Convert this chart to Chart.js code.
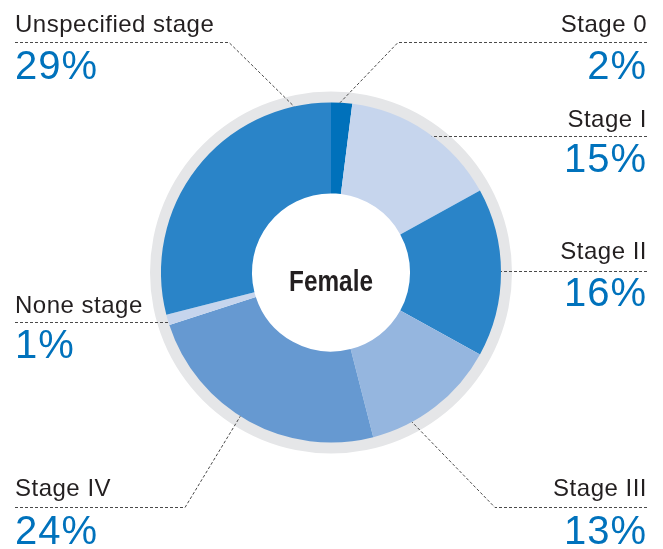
<!DOCTYPE html>
<html lang="en">
<head>
    <meta charset="UTF-8">
    <title>Female - cancer stage</title>
    <script src="https://cdn.jsdelivr.net/npm/chart.js"></script>
    <style>
        html, body { margin: 0; padding: 0; background: #fff; }
        #wrap { width: 663px; height: 549px; }
    </style>
</head>
<body>
    <div id="wrap"><canvas id="stageChart" width="663" height="549"></canvas></div>

    <script>
        // data
        const stageLabels = ["Stage 0", "Stage I", "Stage II", "Stage III", "Stage IV", "None stage", "Unspecified stage"];
        const stageShares = [2, 15, 16, 13, 24, 1, 29];
        const stageColors = ["#0071bb", "#c6d5ed", "#2a84c8", "#95b6df", "#6699d1", "#c6d5ed", "#2a84c8"];
        const centerTitle = "Female";

        // callout layout: side, text x, label baseline, percent baseline,
        // line y (null = at the arc point), knee x (null = straight), where on the slice the line lands
        const callouts = [
            { side: "right", x: 647, labelY: 32,  pctY: 79,  lineY: 42,   knee: 398,  t: 0.42 },
            { side: "right", x: 647, labelY: 127, pctY: 172, lineY: null, knee: null, t: 0.54 },
            { side: "right", x: 647, labelY: 259, pctY: 306, lineY: null, knee: null, t: 0.49 },
            { side: "right", x: 647, labelY: 496, pctY: 544, lineY: 507,  knee: 495,  t: 0.70 },
            { side: "left",  x: 15,  labelY: 496, pctY: 544, lineY: 507,  knee: 185,  t: 0.54 },
            { side: "left",  x: 15,  labelY: 313, pctY: 358, lineY: null, knee: null, t: 0.25 },
            { side: "left",  x: 15,  labelY: 32,  pctY: 79,  lineY: 42,   knee: 229,  t: 0.88 }
        ];

        const ringPlugin = {
            id: "ring",
            beforeDatasetsDraw(chart) {
                const arc = chart.getDatasetMeta(0).data[0];
                const ctx = chart.ctx;
                ctx.save();
                ctx.beginPath();
                ctx.arc(arc.x, arc.y, arc.outerRadius + 11, 0, Math.PI * 2);
                ctx.arc(arc.x, arc.y, arc.outerRadius - 1, 0, Math.PI * 2, true);
                ctx.fillStyle = "#e5e6e8";
                ctx.fill();
                ctx.restore();
            }
        };

        const calloutPlugin = {
            id: "callouts",
            afterDraw(chart) {
                const ctx = chart.ctx;
                const arcs = chart.getDatasetMeta(0).data;

                // center title, condensed bold
                const c = arcs[0];
                ctx.save();
                ctx.font = "bold 29px 'Liberation Sans', Arial, sans-serif";
                ctx.fillStyle = "#231f20";
                ctx.textAlign = "center";
                ctx.textBaseline = "alphabetic";
                ctx.translate(c.x, c.y + 18);
                ctx.scale(0.84, 1);
                ctx.fillText(centerTitle, 0, 0);
                ctx.restore();

                callouts.forEach((co, i) => {
                    const a = arcs[i];
                    const ang = a.startAngle + co.t * (a.endAngle - a.startAngle);
                    const px = a.x + Math.cos(ang) * a.outerRadius;
                    const py = a.y + Math.sin(ang) * a.outerRadius;

                    ctx.save();
                    ctx.strokeStyle = "#4a4a4a";
                    ctx.lineWidth = 1;
                    ctx.setLineDash([3, 2]);
                    ctx.beginPath();
                    if (co.knee === null) {
                        const y = Math.round(py) + 0.5;
                        ctx.moveTo(co.x, y);
                        ctx.lineTo(px, y);
                    } else {
                        const y = co.lineY + 0.5;
                        ctx.moveTo(co.x, y);
                        ctx.lineTo(co.knee, y);
                        ctx.lineTo(px, py);
                    }
                    ctx.stroke();
                    ctx.restore();

                    ctx.save();
                    ctx.textAlign = co.side === "right" ? "right" : "left";
                    ctx.textBaseline = "alphabetic";
                    ctx.font = "24px 'Liberation Sans', Arial, sans-serif";
                    ctx.letterSpacing = "0.5px";
                    ctx.fillStyle = "#231f20";
                    ctx.fillText(stageLabels[i], co.x, co.labelY);
                    ctx.font = "40px 'Liberation Sans', Arial, sans-serif";
                    ctx.letterSpacing = "1px";
                    ctx.fillStyle = "#0072bc";
                    ctx.fillText(stageShares[i] + "%", co.x, co.pctY);
                    ctx.restore();
                });
            }
        };

        const ctx = document.getElementById("stageChart").getContext("2d");
        new Chart(ctx, {
            type: "doughnut",
            data: {
                labels: stageLabels,
                datasets: [{
                    data: stageShares,
                    backgroundColor: stageColors,
                    borderWidth: 0
                }]
            },
            options: {
                responsive: false,
                animation: false,
                devicePixelRatio: 1,
                radius: 170,
                cutout: "46.5%",
                layout: { padding: { left: 0, right: 1, top: 0, bottom: 4 } },
                plugins: {
                    legend: { display: false },
                    tooltip: { enabled: false }
                }
            },
            plugins: [ringPlugin, calloutPlugin]
        });
    </script>
</body>
</html>
